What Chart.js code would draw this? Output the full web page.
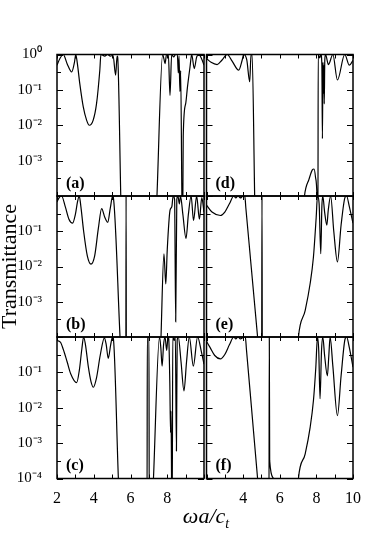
<!DOCTYPE html>
<html><head><meta charset="utf-8">
<script src="https://cdn.jsdelivr.net/npm/chart.js@4.4.1/dist/chart.umd.min.js"></script>
<style>
html,body{margin:0;padding:0;background:#fff;}
#wrap{position:relative;width:382px;height:543px;overflow:hidden;background:#fff;}
#wrap canvas{position:absolute;left:0;top:0;}
#xtitle{position:absolute;left:106px;width:200px;top:505px;text-align:center;font:italic 22px 'Liberation Serif','Times New Roman',serif;line-height:22px;color:#000;white-space:nowrap;}
#xtitle sub{font-size:14px;vertical-align:-5px;line-height:0;}
</style></head><body>
<div id="wrap">
<canvas id="cA" width="382" height="543"></canvas>
<canvas id="cB" width="382" height="543"></canvas>
<canvas id="cC" width="382" height="543"></canvas>
<canvas id="cD" width="382" height="543"></canvas>
<canvas id="cE" width="382" height="543"></canvas>
<canvas id="cF" width="382" height="543"></canvas>
<div id="xtitle">ωa/c<sub>t</sub></div>
</div>
<script>
// ---- data: [ωa/c_t, transmittance] ----
const panelA = [[2.0,0.5],[2.16,0.77],[2.34,1.0],[2.55,0.55],[2.8,0.32],[2.95,0.6],[3.02,1.0],[3.1,0.6],[3.24,0.15],[3.43,0.033],[3.61,0.014],[3.76,0.01],[3.97,0.014],[4.15,0.04],[4.33,0.36],[4.39,1.0],[4.6,0.9],[4.75,1.0],[4.9,0.9],[5.05,0.95],[5.19,0.26],[5.27,0.9],[5.3,0.85],[5.47,1e-4],[5.51,1e-5],
  [7.362,1e-5],[7.44,1e-4],[7.75,1.0],[7.82,0.75],[7.88,0.55],[7.96,1.0],[8.06,1.0],[8.15,0.07],[8.24,1.0],[8.35,0.85],[8.45,1.0],[8.55,1.0],[8.6,0.3],[8.64,0.9],[8.69,0.09],[8.73,0.35],[8.82,1e-5],[8.85,1e-4],[8.87,5e-3],[9.0,0.04],[9.1,0.12],[9.24,0.45],[9.33,1.0],[9.47,0.4],[9.6,0.85],[9.72,1.0],[9.85,0.8],[10.0,0.5]];
const panelB = [[2.0,0.68],[2.12,0.9],[2.25,1.0],[2.45,0.5],[2.65,0.22],[2.85,0.17],[3.0,0.3],[3.12,0.7],[3.21,1.0],[3.3,0.5],[3.45,0.1],[3.65,0.02],[3.85,0.0117],[4.05,0.02],[4.25,0.12],[4.43,0.44],[4.6,0.25],[4.76,0.18],[4.9,0.45],[5.03,1.0],[5.06,0.95],[5.43,1e-4],[5.52,1e-5],[5.745,1e-5],[5.76,1.0],[5.775,1e-5],
  [7.6,1e-5],[7.66,1e-4],[7.82,0.023],[7.92,3.2e-3],[8.0,0.03],[8.15,0.39],[8.25,0.5],[8.32,1.0],[8.4,0.8],[8.46,2.7e-4],[8.52,0.8],[8.58,1.0],[8.66,0.6],[8.72,1.0],[8.85,0.3],[9.02,0.062],[9.15,0.3],[9.3,1.0],[9.43,0.2],[9.6,1.0],[9.75,0.22],[9.88,0.9],[10.0,0.35]];
const panelC = [[2.0,0.8],[2.2,0.7],[2.34,0.45],[2.55,0.2],[2.75,0.09],[3.07,0.051],[3.22,0.12],[3.35,0.45],[3.45,1.0],[3.55,0.6],[3.7,0.15],[3.85,0.055],[3.98,0.038],[4.15,0.07],[4.35,0.3],[4.58,0.95],[4.68,0.6],[4.79,0.25],[4.92,0.6],[5.02,1.0],[5.06,0.95],[5.34,1e-4],[5.42,1e-5],
  [6.9,1e-5],[6.915,1.0],[7.005,1.0],[7.02,1e-5],
  [7.17,1e-5],[7.25,1e-4],[7.58,1.0],[7.65,0.5],[7.72,0.15],[7.8,0.6],[7.88,1.0],[7.97,0.42],[8.04,1.0],[8.08,0.9],[8.14,0.05],[8.18,2e-3],[8.2,8e-3],[8.22,1.5e-3],[8.25,1e-5],[8.27,1e-5],[8.3,1.0],[8.38,0.8],[8.44,1.0],[8.5,6e-4],[8.54,0.8],[8.6,1.0],[8.75,0.2],[8.91,0.03],[9.05,0.2],[9.2,1.0],[9.42,0.15],[9.65,1.0],[9.85,0.4],[10.0,0.17]];
const panelD = [[2.0,0.77],[2.25,0.6],[2.58,0.52],[2.85,0.7],[3.13,1.0],[3.4,0.65],[3.76,0.36],[3.95,0.7],[4.03,1.0],[4.2,0.7],[4.36,0.17],[4.43,1.0],[4.49,1.0],[4.63,1e-4],[4.665,1e-5],
  [7.2,1e-5],[7.35,1e-4],[7.6,3e-4],[7.78,5.5e-4],[7.87,5.8e-4],[7.95,3.5e-4],[8.03,1e-4],[8.06,1e-5],[8.085,1e-5],[8.1,1.0],[8.18,0.8],[8.25,1.0],[8.3,0.5],[8.33,4.2e-3],[8.36,0.6],[8.39,0.08],[8.41,0.5],[8.43,0.04],[8.46,0.7],[8.5,1.0],[8.66,0.52],[8.9,1.0],[9.15,0.19],[9.55,1.0],[9.8,0.5],[10.0,0.68]];
const panelE = [[2.0,0.55],[2.3,0.35],[2.76,0.28],[3.0,0.35],[3.25,0.6],[3.49,1.0],[3.6,0.88],[3.72,1.0],[3.85,0.88],[4.0,1.0],[4.09,1.0],[4.15,0.45],[4.45,8.8e-3],[4.79,1e-4],[4.965,1e-5],[5.01,1e-5],[5.03,1.0],[5.05,1e-5],
  [6.9,1e-5],[7.02,1e-4],[7.39,5.7e-4],[7.66,3.3e-3],[7.84,0.0186],[7.99,0.25],[8.06,1.0],[8.15,0.6],[8.24,0.023],[8.3,0.5],[8.35,1.0],[8.45,0.35],[8.57,0.15],[8.65,0.4],[8.78,1.0],[8.95,0.1],[9.15,0.0135],[9.35,0.15],[9.56,0.9],[9.65,1.0],[9.8,0.5],[10.0,0.17]];
const panelF = [[2.0,0.75],[2.2,0.5],[2.45,0.3],[2.76,0.24],[3.0,0.32],[3.25,0.6],[3.49,1.0],[3.6,0.88],[3.72,1.0],[3.85,0.88],[4.05,1.0],[4.12,1.0],[4.18,0.45],[4.45,0.011],[4.79,1e-4],[4.965,1e-5],
  [5.41,1e-5],[5.43,1.0],[5.45,3.2e-4],[5.66,1e-4],[5.72,1e-5],
  [6.9,1e-5],[7.02,1e-4],[7.39,5e-4],[7.66,2.8e-3],[7.84,0.016],[7.97,0.14],[8.06,1.0],[8.13,0.4],[8.2,0.018],[8.28,0.4],[8.35,1.0],[8.45,0.3],[8.6,0.08],[8.68,0.3],[8.75,1.0],[8.9,0.15],[9.15,6e-3],[9.35,0.08],[9.56,0.85],[9.65,1.0],[9.8,0.5],[10.0,0.14]];

const panelLabels = ['(a)','(b)','(c)','(d)','(e)','(f)'];
const xTickLabelsLeft = ['2','4','6','8'];
const xTickLabelsRight = ['4','6','8','10'];
const yDecadeLabels = ['10\u2070','10\u207B\u00B9','10\u207B\u00B2','10\u207B\u00B3','10\u207B\u2074'];
const yTitle = 'Transmittance';

// ---- layout ----
const W = 382, H = 543;
const FONT = "'Liberation Serif','Times New Roman',serif";
const rowTop = [54.5, 196, 337];
const rowBottom = [196, 337, 478.5];
const colLeft = [57, 206.5];
const colRight = [204, 353];
const yTickValues = [];
for (let e = 0; e >= -4; e--) { yTickValues.push(Math.pow(10, e)); if (e > -4) yTickValues.push(Math.pow(10, e - 0.5)); }

function isDecade(v){ const l = Math.log10(v); return Math.abs(l - Math.round(l)) < 1e-6; }

const framePlugin = {
  id: 'frame',
  afterDatasetsDraw(chart, args, opts) {
    const {ctx, chartArea: a} = chart;
    const xs = chart.scales.x, ys = chart.scales.y;
    ctx.save();
    ctx.strokeStyle = '#000';
    ctx.lineWidth = 1;
    ctx.beginPath();
    xs.ticks.forEach(t => {
      const px = Math.round(xs.getPixelForValue(t.value)) + 0.5;
      ctx.moveTo(px, a.bottom); ctx.lineTo(px, a.bottom - 4);
      ctx.moveTo(px, a.top); ctx.lineTo(px, a.top + 4);
    });
    ys.ticks.forEach(t => {
      const py = Math.round(ys.getPixelForValue(t.value)) + 0.5;
      const len = isDecade(t.value) ? 6 : 4;
      ctx.moveTo(a.left, py); ctx.lineTo(a.left + len, py);
      ctx.moveTo(a.right, py); ctx.lineTo(a.right - len, py);
    });
    ctx.stroke();
    ctx.lineWidth = 1.5;
    ctx.strokeRect(a.left, a.top, a.right - a.left, a.bottom - a.top);
    ctx.fillStyle = '#000';
    ctx.font = 'bold 16px ' + FONT;
    ctx.textBaseline = 'alphabetic';
    ctx.textAlign = 'left';
    ctx.fillText(opts.label, a.left + 9, a.bottom - 8.5);
    ctx.restore();
  }
};

const panels = [
  {id:'cA', data:panelA, row:0, col:0},
  {id:'cB', data:panelB, row:1, col:0},
  {id:'cC', data:panelC, row:2, col:0},
  {id:'cD', data:panelD, row:0, col:1},
  {id:'cE', data:panelE, row:1, col:1},
  {id:'cF', data:panelF, row:2, col:1}
];

panels.forEach((p, i) => {
  const isLeft = p.col === 0, isBottom = p.row === 2;
  const yW = isLeft ? colLeft[0] : 0;
  const xH = isBottom ? 30 : 0;
  const xLabs = isLeft ? xTickLabelsLeft : xTickLabelsRight;
  new Chart(document.getElementById(p.id), {
    type: 'line',
    data: { datasets: [{
      data: p.data.map(([x, y]) => ({x, y})),
      borderColor: '#000', borderWidth: 1.2, pointRadius: 0, fill: false,
      cubicInterpolationMode: 'monotone'
    }]},
    options: {
      responsive: false, animation: false, events: [],
      layout: { padding: { left: isLeft ? 0 : colLeft[1], right: W - colRight[p.col], top: rowTop[p.row], bottom: H - rowBottom[p.row] - xH } },
      plugins: { legend: {display: false}, tooltip: {enabled: false}, frame: {label: panelLabels[i]} },
      scales: {
        x: {
          type: 'linear', position: 'bottom', min: 2, max: 10,
          afterFit: s => { s.height = xH; },
          grid: {display: false}, border: {display: false},
          ticks: { display: isBottom, stepSize: 1, autoSkip: false, maxRotation: 0, padding: 3, color: '#000',
                   font: {family: FONT, size: 16},
                   callback: v => xLabs.includes(String(v)) ? String(v) : '' }
        },
        y: {
          type: 'logarithmic', position: 'left', min: 1e-4, max: 1,
          afterFit: s => { s.width = yW; },
          afterBuildTicks: s => { s.ticks = yTickValues.map(v => ({value: v})); },
          grid: {display: false}, border: {display: false},
          title: (isLeft && p.row === 1) ? { display: true, text: yTitle, color: '#000', padding: 0, font: {family: FONT, size: 22, lineHeight: 0.9} } : {display: false},
          ticks: { display: isLeft, autoSkip: false, padding: 7, color: '#000',
                   font: {family: FONT, size: 15},
                   callback: v => {
                     if (!isDecade(v)) return '';
                     const e = -Math.round(Math.log10(v));
                     if (e === 0 && p.row !== 0) return '';
                     if (e === 4 && p.row !== 2) return '';
                     return yDecadeLabels[e];
                   } }
        }
      }
    },
    plugins: [framePlugin]
  });
});
</script>
</body></html>
